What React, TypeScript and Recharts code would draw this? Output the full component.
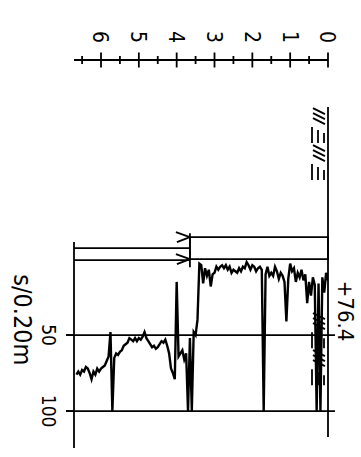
import React from 'react';
import { LineChart, Line, XAxis, YAxis, ReferenceLine, ReferenceArea } from 'recharts';

// sounding log, depth below ground (m) vs. resistance (s/0.20m)
const depthM = [
  0.0, 0.05, 0.1, 0.15, 0.2, 0.25, 0.3, 0.35, 0.4, 0.45,
  0.5, 0.55, 0.6, 0.65, 0.7, 0.75, 0.8, 0.85, 0.9, 0.95,
  1.0, 1.05, 1.1, 1.15, 1.2, 1.25, 1.3, 1.35, 1.4, 1.45,
  1.5, 1.55, 1.6, 1.65, 1.7, 1.75, 1.8, 1.85, 1.9, 1.95,
  2.0, 2.05, 2.1, 2.15, 2.2, 2.25, 2.3, 2.35, 2.4, 2.45,
  2.5, 2.55, 2.6, 2.65, 2.7, 2.75, 2.8, 2.85, 2.9, 2.95,
  3.0, 3.05, 3.1, 3.15, 3.2, 3.25, 3.3, 3.35, 3.4, 3.45,
  3.5, 3.55, 3.6, 3.65, 3.7, 3.75, 3.8, 3.85, 3.9, 3.95,
  4.0, 4.05, 4.1, 4.15, 4.2, 4.25, 4.3, 4.35, 4.4, 4.45,
  4.5, 4.55, 4.6, 4.65, 4.7, 4.75, 4.8, 4.85, 4.9, 4.95,
  5.0, 5.05, 5.1, 5.15, 5.2, 5.25, 5.3, 5.35, 5.4, 5.45,
  5.5, 5.55, 5.6, 5.65, 5.7, 5.75, 5.8, 5.85, 5.9, 5.95,
  6.0, 6.05, 6.1, 6.15, 6.2, 6.25, 6.3, 6.35, 6.4, 6.45,
  6.5, 6.55, 6.6, 6.65,
];

const sPer20cm = [
  14, 9, 22, 12, 100, 16, 100, 17, 12, 24,
  15, 29, 10, 14, 7, 12, 9, 15, 6, 8,
  3, 13, 41, 15, 11, 9, 13, 8, 5, 11,
  9, 11, 5, 10, 100, 7, 5, 6, 8, 5,
  4, 7, 4, 2, 6, 5, 8, 6, 9, 8,
  7, 9, 5, 7, 4, 6, 4, 5, 7, 5,
  9, 10, 18, 7, 11, 6, 16, 4, 3, 40,
  50, 48, 100, 52, 100, 62, 66, 60, 62, 64,
  15, 79, 75, 72, 62, 57, 53, 55, 54, 56,
  58, 59, 57, 58, 56, 54, 52, 48, 51, 53,
  52, 54, 52, 54, 53, 52, 55, 56, 57, 60,
  61, 63, 62, 65, 100, 48, 64, 67, 70, 71,
  72, 74, 72, 76, 74, 79, 75, 72, 71, 74,
  73, 76, 74, 76,
];

const valueTicks = [50, 100];
const depthTicks = [0, 0.5, 1, 1.5, 2, 2.5, 3, 3.5, 4, 4.5, 5, 5.5, 6, 6.5];
const groundElevation = '+76.4';
const unitLabel = 's/0.20m';

const data = depthM.map((depth, i) => ({ depth, value: sPer20cm[i] }));

// chart is laid out upright, then the whole thing is turned a quarter turn
const W = 457;
const H = 361;
const FONT = '"Liberation Sans Narrow", "DejaVu Sans Condensed", "Liberation Sans", Arial, sans-serif';
const INK = '#000';
const LW = 1.8;

const X_DOMAIN: [number, number] = [-131, 125.6];
const Y_DOMAIN: [number, number] = [0, 6.714];
const PX_X = 390 / (X_DOMAIN[1] - X_DOMAIN[0]); // px per unit along value axis
const PX_Y = 254 / (Y_DOMAIN[1] - Y_DOMAIN[0]); // px per metre

const px = (p: number) => p / PX_X;
const pd = (p: number) => p / PX_Y;

// fill-ground symbol: ///≡ repeated
function hatchSegments(v0: number) {
  const segs: { x: number; y: number }[][] = [];
  for (let rep = 0; rep < 2; rep++) {
    const b = v0 + px(37 * rep);
    for (let i = 0; i < 3; i++) {
      segs.push([
        { x: b + px(1 + 5 * i), y: pd(15) },
        { x: b + px(7 + 5 * i), y: pd(3) },
      ]);
    }
    const dashLen = [16, 13, 10];
    [16, 10, 4].forEach((dy, i) => {
      segs.push([
        { x: b + px(36 - dashLen[i]), y: pd(dy) },
        { x: b + px(36), y: pd(dy) },
      ]);
    });
  }
  return segs;
}

const hatches = [...hatchSegments(-100), ...hatchSegments(34.9)];

function DepthTick(props: any) {
  const { x, y, payload } = props;
  const major = Number.isInteger(payload.value);
  const h = major ? 7.5 : 4;
  return (
    <g>
      <line x1={x - h} x2={x + h} y1={y} y2={y} stroke={INK} strokeWidth={LW} />
      {major && (
        <text x={x - 23} y={y} dy="0.36em" textAnchor="middle" fontSize={21} fontFamily={FONT} fill={INK}>
          {payload.value}
        </text>
      )}
    </g>
  );
}

const arrowTop = 3.65;
const arrows = [
  { shaft: px(248 - 259), tip: px(237 - 259) },
  { shaft: px(260 - 259), tip: px(259 - 259) },
];

export default function App() {
  return (
    <div style={{ position: 'fixed', left: 0, top: 0, width: 361, height: 457, overflow: 'hidden', background: '#fff' }}>
      <div
        style={{
          position: 'absolute',
          left: 0,
          top: 0,
          width: W,
          height: H,
          transformOrigin: '0 0',
          transform: 'translate(361px, 0) rotate(90deg)',
        }}
      >
        <LineChart width={W} height={H} data={data} layout="vertical" margin={{ top: 33, right: 7, bottom: 0, left: 0 }}>
          <XAxis
            type="number"
            dataKey="value"
            domain={X_DOMAIN}
            allowDataOverflow
            ticks={valueTicks}
            height={74}
            axisLine={false}
            tickSize={8}
            tickMargin={11}
            tickLine={{ stroke: INK, strokeWidth: LW }}
            tick={{ fill: INK, fontSize: 19, fontFamily: FONT }}
          />
          <YAxis
            type="number"
            dataKey="depth"
            domain={Y_DOMAIN}
            allowDataOverflow
            ticks={depthTicks}
            interval={0}
            width={60}
            tickSize={0}
            tickMargin={0}
            tickLine={false}
            axisLine={{ stroke: INK, strokeWidth: LW }}
            tick={<DepthTick />}
          />

          {valueTicks.map((v) => (
            <ReferenceLine
              key={v}
              segment={[{ x: v, y: -pd(7) }, { x: v, y: Y_DOMAIN[1] + pd(8) }]}
              stroke={INK}
              strokeWidth={LW}
              ifOverflow="visible"
            />
          ))}

          {/* ground surface */}
          <ReferenceLine segment={[{ x: -100, y: 0 }, { x: 117, y: 0 }]} stroke={INK} strokeWidth={LW} ifOverflow="visible" />
          <ReferenceLine
            segment={[{ x: 24, y: 0 }, { x: 44.4, y: 0 }]}
            stroke="none"
            ifOverflow="visible"
            label={{ value: groundElevation, position: 'top', offset: 10, fill: INK, fontSize: 22, fontFamily: FONT }}
          />

          {/* value axis line */}
          <ReferenceLine segment={[{ x: -11.2, y: Y_DOMAIN[1] }, { x: 124.3, y: Y_DOMAIN[1] }]} stroke={INK} strokeWidth={LW} ifOverflow="visible" />
          <ReferenceLine
            segment={[{ x: 26, y: Y_DOMAIN[1] }, { x: 54, y: Y_DOMAIN[1] }]}
            stroke="none"
            ifOverflow="visible"
            label={{ value: unitLabel, position: 'bottom', offset: 42, fill: INK, fontSize: 25, fontFamily: FONT }}
          />

          {hatches.map((s, i) => (
            <ReferenceLine key={'h' + i} segment={s} stroke={INK} strokeWidth={LW} ifOverflow="visible" />
          ))}

          <ReferenceArea x1={-14.5} x2={0} y1={0} y2={arrowTop} fill="none" stroke={INK} strokeWidth={LW} ifOverflow="visible" />
          <ReferenceLine segment={[{ x: -17, y: arrowTop }, { x: 5.3, y: arrowTop }]} stroke={INK} strokeWidth={LW} ifOverflow="visible" />
          {arrows.map((a, i) => (
            <React.Fragment key={'a' + i}>
              <ReferenceLine segment={[{ x: a.shaft, y: arrowTop }, { x: a.shaft, y: Y_DOMAIN[1] }]} stroke={INK} strokeWidth={LW} ifOverflow="visible" />
              <ReferenceLine segment={[{ x: a.tip, y: arrowTop }, { x: a.tip - px(5), y: arrowTop + pd(14) }]} stroke={INK} strokeWidth={LW} ifOverflow="visible" />
              <ReferenceLine segment={[{ x: a.tip, y: arrowTop }, { x: a.tip + px(5), y: arrowTop + pd(13) }]} stroke={INK} strokeWidth={LW} ifOverflow="visible" />
            </React.Fragment>
          ))}

          <Line
            dataKey="value"
            stroke={INK}
            strokeWidth={2.4}
            dot={false}
            isAnimationActive={false}
            type="linear"
          />
        </LineChart>
      </div>
    </div>
  );
}
